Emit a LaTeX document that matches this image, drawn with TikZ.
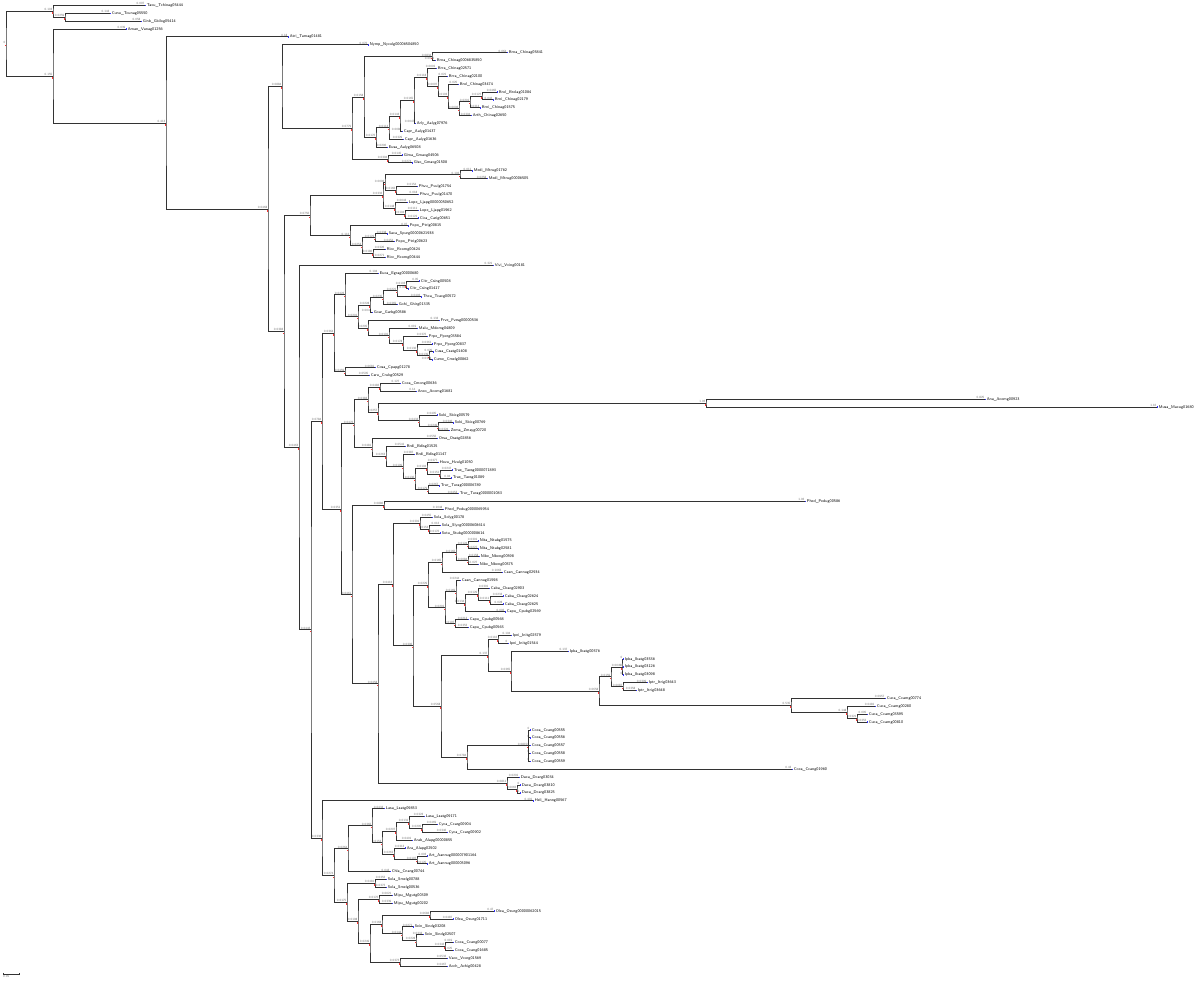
\documentclass[tikz,border=0pt]{standalone}
\usetikzlibrary{calc}
\colorlet{linec}{black!80}
\colorlet{numc}{black!55}
\colorlet{nodec}{red!80}
\colorlet{tipc}{blue!80}
\tikzset{
  branch/.style={draw=linec, line width=1pt},
  taxon/.style={anchor=west, inner sep=0pt, xshift=1.6pt, font=\sffamily\fontsize{4}{4}\selectfont},
  blen/.style={anchor=south east, inner sep=0.4pt, text=numc, font=\sffamily\fontsize{3.2}{3.2}\selectfont},
}
\begin{document}
\begin{tikzpicture}[x=1pt, y=-1pt]
  \useasboundingbox (0,0) rectangle (1200,984);
  \def\dy{7.875}

  % Leaves
  \foreach \i/\px/\bl/\nm in {
    0/145/0.097/Taxu\_Tchinag05444, 1/110/0.143/Cunu\_Tcunag05550, 2/141/0.058/Ginb\_Gbilog05414,
    3/126/0.039/Aman\_Vanag01256, 4/288/0.18/Atri\_Tamag01481, 5/368/0.076/Nymp\_Nycolg00006504850,
    6/507/0.064/Brna\_Chinag05841, 7/435/0.0071/Brna\_Chinag0006835850, 8/436/0.0091/Brra\_Chinag02571,
    9/447/0.021/Brra\_Chinag02100, 10/458/0.025/Brol\_Chinag03474, 11/497/0.0466/Brol\_Brolag01084,
    12/493/0.042/Brni\_Chinag02179, 13/480/0.0313/Brni\_Chinag01575, 14/471/0.0304/Arth\_Chinag02650,
    15/415/0.0047/Arly\_Aalyg07976, 16/402/0.0086/Capr\_Aalyg01437, 17/403/0.0329/Capr\_Aalyg01636,
    18/387/0.0206/Eusa\_Aalyg06508, 19/402/0.0145/Glma\_Gmaxg04506, 20/412/0.0274/Glso\_Gmaxg01508,
    21/472/0.011/Medi\_Mtrug01762, 22/487/0.0258/Medi\_Mtrug00006505, 23/417/0.0154/Phvu\_Pvulg01754,
    24/418/0.018/Phvu\_Pvulg01470, 25/407/0.0043/Lope\_Ljapg00000050652, 26/418/0.0111/Lope\_Ljapg01962,
    27/418/0.0121/Cica\_Carig00651, 28/408/0.07/Popo\_Ptrig00815, 29/387/0.0338/Saca\_Spurg00000621938,
    30/394/0.0454/Popo\_Ptrig00623, 31/385/0.0326/Ricc\_Rcomg00424, 32/385/0.0271/Ricc\_Rcomg00444,
    33/493/0.321/Vivi\_Vving00181, 34/378/0.104/Euca\_Egrag00000680, 35/419/0.05/Citr\_Csing00508,
    36/408/0.002/Citr\_Csing01417, 37/421/0.0402/Thca\_Tcacg00572, 38/397/0.0369/Gohi\_Ghirg01335,
    39/372/0.0041/Goar\_Garbg00586, 40/439/0.133/Frve\_Fvesg00000536, 41/417/0.019/Malu\_Mdomg04809,
    42/427/0.0376/Prpe\_Pperg03584, 43/432/0.0361/Prpe\_Pperg00837, 44/433/0.029/Cusa\_Csatg01408,
    45/432/0.0328/Cume\_Cmelg00862, 46/375/0.0681/Cosa\_Cpapg01278, 47/369/0.0595/Caru\_Crubg00529,
    48/400/0.127/Coca\_Cmong00636, 49/416/0.14/Anco\_Acomg01681, 50/985/0.825/Ana\_Acomg00923,
    51/1157/1.16/Musa\_Macug01680, 52/437/0.0495/Sobi\_Sbicg00579, 53/453/0.0346/Sobi\_Sbicg00769,
    54/449/0.0324/Zema\_Zmayg00720, 55/437/0.0556/Orsa\_Osatg02856, 56/405/0.0541/Brdi\_Bdisg01525,
    57/414/0.0387/Brdi\_Bdisg01147, 58/438/0.0377/Hovu\_Hvulg01050, 59/452/0.0247/Trae\_Taesg0000071893,
    60/451/0.04/Trae\_Taesg01089, 61/439/0.0267/Trur\_Turag000006789, 62/458/0.0453/Trur\_Turag0000001083,
    63/805/1.02/Phed\_Pedug00586, 64/443/0.1048/Phed\_Pedug0000065954, 65/432/0.0455/Sola\_Solyg00178,
    66/440/0.012/Sola\_Slycg00000608614, 67/440/0.0176/Sotu\_Stubg0000008614, 68/478/0.0301/Nita\_Ntabg01575,
    69/478/0.0227/Nita\_Ntabg02581, 70/479/0.0158/Nibe\_Nbeng00598, 71/478/0.027/Nibe\_Nbeng00575,
    72/502/0.1062/Caan\_Cannug02934, 73/460/0.0244/Caan\_Cannug01598, 74/489/0.0391/Caba\_Cbacg02903,
    75/503/0.0233/Caba\_Cbacg02624, 76/503/0.028/Caba\_Cbacg02625, 77/505/0.092/Capu\_Cpubg02569,
    78/468/0.0213/Capu\_Cpubg00568, 79/468/0.0352/Capu\_Cpubg00563, 80/511/0.104/Ipni\_Initg02579,
    81/508/0/Ipni\_Initg01544, 82/568/0.137/Ipba\_Ibatg00576, 83/623/0/Ipba\_Ibatg03536,
    84/623/0/Ipba\_Ibatg03126, 85/623/0/Ipba\_Ibatg03098, 86/647/0.0309/Iptr\_Itrig03643,
    87/636/0.0358/Iptr\_Itrig03648, 88/885/0.0957/Cuca\_Ccamg00774, 89/875/0.0481/Cuca\_Ccamg00280,
    90/867/0.005/Cuca\_Ccamg03595, 91/867/0.0352/Cuca\_Ccamg00810, 92/530/0/Coca\_Ccang00555,
    93/530/0/Coca\_Ccang00556, 94/530/0/Coca\_Ccang00557, 95/530/0/Coca\_Ccang00558,
    96/530/0/Coca\_Ccang00559, 97/792/0.43/Coca\_Ccang01960, 98/519/0.0291/Daca\_Dcarg03034,
    99/520/0/Daca\_Dcarg03810, 100/520/0/Daca\_Dcarg03825, 101/533/0.491/Heli\_Hanng00567,
    102/384/0.0433/Lasa\_Lsatg09853, 103/424/0.0323/Lasa\_Lsatg09171, 104/437/0.0469/Cyca\_Ccarg00904,
    105/447/0.0346/Cyca\_Ccarg00902, 106/412/0.0401/Arab\_Alapg00000855, 107/405/0.0313/Ara\_Alapg02502,
    108/427/0.003/Art\_Aannug000007901164, 109/427/0.0125/Art\_Aannug000005096, 110/390/0.043/Chla\_Cnang00744,
    111/386/0.0352/Sola\_Smelg00788, 112/386/0.0372/Sola\_Smelg00536, 113/392/0.0021/Mipu\_Mgutg00309,
    114/392/0.0339/Mipu\_Mgutg00202, 115/494/0.47/Olea\_Oeurg00000062015, 116/453/0.0487/Olea\_Oeurg01711,
    117/413/0.0271/Sein\_Sindg03208, 118/423/0.0333/Sein\_Sindg02507, 119/453/0.019/Coca\_Ccang00077,
    120/453/0.025/Coca\_Ccang01685, 121/447/0.0532/Vaco\_Vcorg01569, 122/447/0.0467/Acch\_Achig00428}{
    \coordinate (l\i) at (\px, 5.5+\dy*\i);
    \fill[tipc] ($(l\i)+(0,-0.7)$) rectangle ++(1.2,1.4);
    \node[taxon] (t\i) at (l\i) {\nm};
    \node[blen] (b\i) at (l\i) {\bl};
  }

  % Clades (children first)
  \foreach \cl/\px/\ca/\cb/\sv in {
    A2/65/l1/l2/0.0259, A/53/l0/A2/0.103,
    Nf/482/l11/l12/0.0127, Ng/470/Nf/l13/0.0201, Ne/459/Ng/l14/0.0092, Nd/448/l10/Ne/0.0103,
    Nc/438/l9/Nd/0.0097, Nb/427/l8/Nc/0.0118, Na/414/Nb/l15/0.0165, Nh/400/Na/l16/0.0143,
    Ni/389/Nh/l17/0.0113, G2/376/Ni/l18/0.0176, G1/432/l6/l7/0.0834, G/364/G1/G2/0.0158,
    H/388/l19/l20/0.0394, F/352/G/H/0.0779, E/282/l5/F/0.0884,
    M1a/460/l21/l22/0.102, M1c/396/l23/l24/0.0166, M1g/385/M1a/M1c/0.0092, M1e/405/l26/l27/0.0104,
    M1d/395/l25/M1e/0.0148, M1/383/M1g/M1d/0.0332, M2b/375/l29/l30/0.0121, M2c/373/l31/l32/0.0186,
    M2a/362/M2b/M2c/0.0253, M2/350/l28/M2a/0.112, M/310/M1/M2/0.0756,
    Q1g/406/l35/l36/0.0103, Q1f/397/Q1g/l37/0.0221, Q1e/383/Q1f/l38/0.0235, Q1c/370/Q1e/l39/0.0228,
    Q1j/429/l44/l45/0.0139, Q1k/417/l43/Q1j/0.0136, Q1i/403/l42/Q1k/0.0178, Q1h/389/l41/Q1i/0.0191,
    Q1d/368/l40/Q1h/0.0205, Q1b/358/Q1c/Q1d/0.0201, Q1/345/l34/Q1b/0.0422, QB/345/l46/l47/0.0459,
    Qp/334/Q1/QB/0.0364,
    T5/380/l48/l49/0.0482, LP/706/l50/l51/1.02, T1/438/l53/l54/0.0249, T2/419/l52/T1/0.0433,
    T3/378/LP/T2/0.0257, T4/368/T5/T3/0.0383, T13/440/l59/l60/0.0151, T11/427/l58/T13/0.0104,
    T12/428/l61/l62/0.0179, T10/415/T11/T12/0.0136, T9/403/l57/T10/0.0109, T8/386/l56/T9/0.0263,
    T7/372/l55/T8/0.0481, T6/354/T4/T7/0.0476,
    V1/384/l63/l64/0.0886, X1c/429/l66/l67/0.0153, X1a/420/l65/X1c/0.0391,
    Y1/468/l68/l69/0.0124, Y2/468/l70/l71/0.0084, Y3/456/Y1/Y2/0.0166, Y4/442/Y3/l72/0.0165,
    Y6/490/l75/l76/0.0111, Y7/478/l74/Y6/0.0129, Y8/465/Y7/l77/0.0134, Y9/456/l73/Y8/0.0169,
    Y11/455/l78/l79/0.0197, Y13/445/Y9/Y11/0.0201, Y12/428/Y4/Y13/0.0229,
    Zt/498/l80/l81/0.0116, Z1/622/l83/l85/0.0045, Z2/623/l86/l87/0.0087, Z3/611/Z1/Z2/0.0159,
    Z4/857/l90/l91/0.0321, Z5/847/l89/Z4/0.148, Z6/791/l88/Z5/0.535, Z7/599/Z3/Z6/0.0658,
    Z8/511/l82/Z7/0.0365, Z9/488/Zt/Z8/0.137, Z12/528/l92/l96/0.0815, Z11/467/Z12/l97/0.0784,
    Z10/441/Z9/Z11/0.0568, X1x/413/Y12/Z10/0.0306, X1/393/X1a/X1x/0.0412,
    X2a/517/l99/l100/0.0062, X2/507/l98/X2a/0.0811, W/378/X1/X2/0.0458, V/352/V1/W/0.0461,
    R2/341/T6/V/0.0351, R/322/Qp/R2/0.0784,
    Sa/422/l104/l105/0.0205, Sb/409/l103/Sa/0.0131, Sc/396/Sb/l106/0.0207, Sd/417/l108/l109/0.0197,
    Se/394/l107/Sd/0.0261, Sf/382/Sc/Se/0.0153, Sg/372/l102/Sf/0.0366, S3/348/Sg/l110/0.0264,
    Sh/375/l111/l112/0.0481, Si/379/l113/l114/0.0176, K1/430/l115/l116/0.0682, Sj/445/l119/l120/0.0342,
    Sk/416/l118/Sj/0.0228, Sl/402/l117/Sk/0.0144, K2/382/K1/Sl/0.0168, Sm/400/l121/l122/0.0372,
    Sn/370/K2/Sm/0.0249, So/358/Si/Sn/0.0198, S4/347/Sh/So/0.0175, S2/334/S3/S4/0.0274,
    S/322/l101/S2/0.0336,
    P2/311/R/S/0.0442, P/299/l33/P2/0.0463, D2/284/M/P/0.0383, D/268/E/D2/0.0468,
    C/166/l4/D/0.413, B/53/l3/C/0.155, root/6/A/B/0}{
    \path ($(\ca)!0.5!(\cb)$) coordinate (mid);
    \coordinate (\cl) at (\px,0 |- mid);
    \draw[branch] (\ca) -| (\cl) |- (\cb);
    \fill[nodec] ($(\cl)+(-1.1,0.9)$) rectangle ++(0.8,1.6);
    \node[blen] (s\cl) at (\cl) {\sv};
  }

  % Polytomies
  \foreach \pa/\ch in {Z1/l84, Z12/l93, Z12/l94, Z12/l95}
    \draw[branch] (\pa) |- (\ch);

  % Scale bar
  \coordinate (sbl) at (3,974);
  \coordinate (sbr) at (19,974);
  \draw[linec, line width=0.5pt] (sbl) -- (sbr);
  \draw[linec, line width=0.5pt] ($(sbl)+(0,-1.2)$) -- ++(0,2.4);
  \draw[linec, line width=0.5pt] ($(sbr)+(0,-1.2)$) -- ++(0,2.4);
  \node[blen, anchor=north west, inner sep=0pt] (sbt) at ($(sbl)+(0,1.5)$) {0.05};
\end{tikzpicture}
\end{document}
